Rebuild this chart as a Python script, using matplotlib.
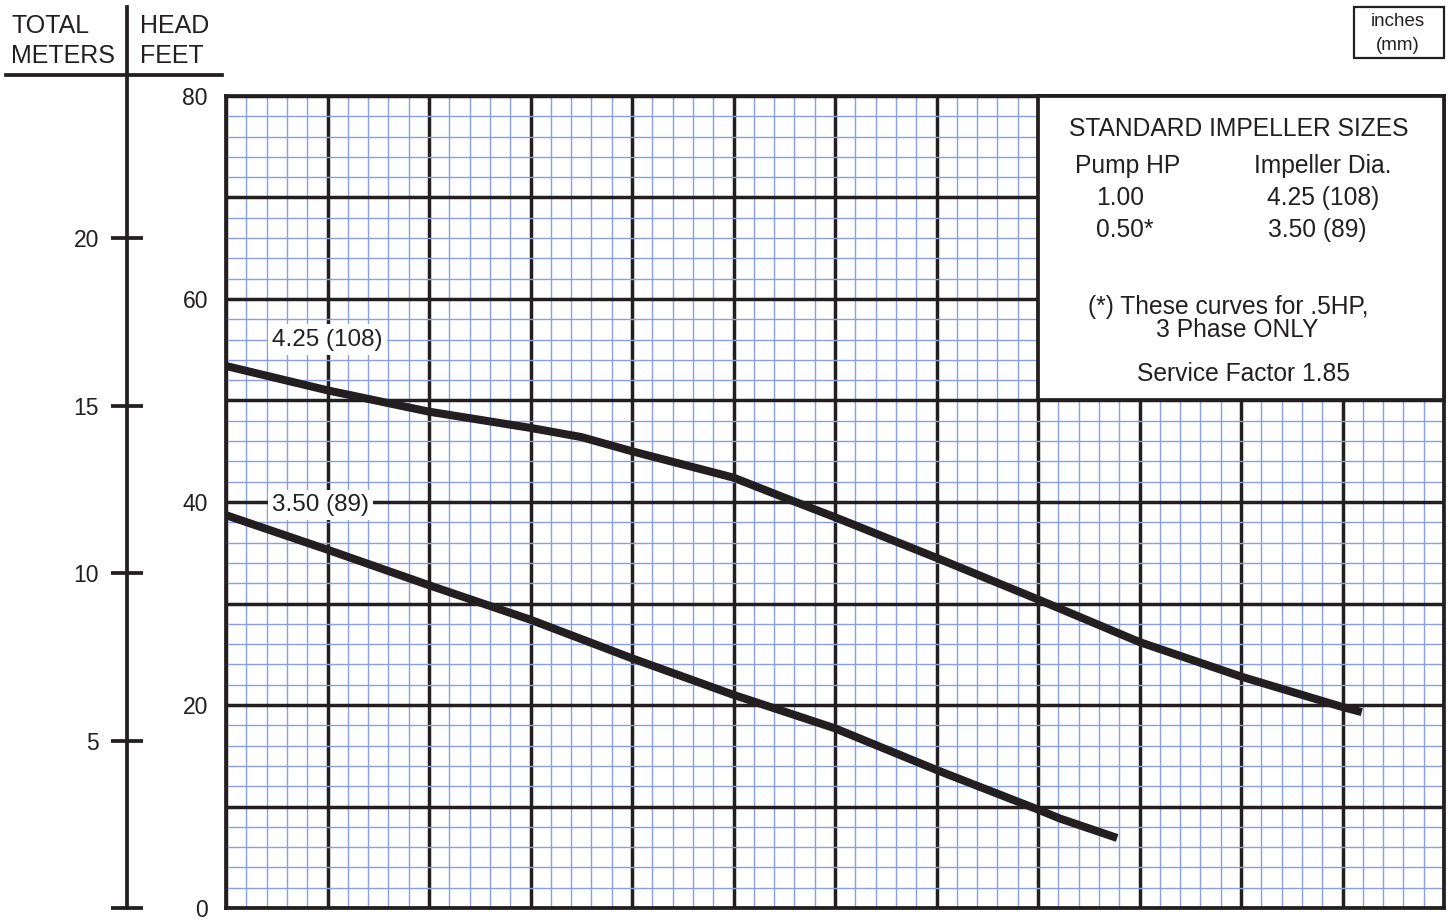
import matplotlib
matplotlib.use("Agg")
import matplotlib.pyplot as plt
from matplotlib.patches import Rectangle
from matplotlib.lines import Line2D
from matplotlib.ticker import MultipleLocator, FixedLocator, FuncFormatter

plt.rcParams['font.family'] = ['Liberation Sans', 'DejaVu Sans']

# ---------------- data ----------------
curve_425_x = [0, 10, 20, 30, 35, 40, 50, 55.6, 60, 70, 80, 90, 100, 110, 111.9]
curve_425_y = [53.4, 51.0, 48.9, 47.3, 46.4, 45.0, 42.4, 40.2, 38.5, 34.5, 30.4, 26.2, 22.8, 19.8, 19.3]
curve_350_x = [0, 10, 20, 30, 40, 50, 60, 70, 80, 82.2, 87.8]
curve_350_y = [38.7, 35.3, 31.8, 28.4, 24.6, 21.0, 17.7, 13.6, 9.7, 8.8, 6.9]
curve_labels = ["4.25 (108)", "3.50 (89)"]
feet_ticks = [0, 20, 40, 60, 80]
meter_ticks = [0, 5, 10, 15, 20]
meter_labels = ["", "5", "10", "15", "20"]
FT_PER_M = 3.3

W, H = 1450, 922
INK = '#231f20'
BLUE = '#8a9fde'

def fx(px):
    return px / W

def fy(py):
    return 1 - py / H

fig = plt.figure(figsize=(W / 100, H / 100), dpi=100)
fig.patch.set_facecolor('white')

# main grid axes
L, R, T, B = 226, 1444, 96, 908
ax = fig.add_axes([fx(L), fy(B), fx(R) - fx(L), fy(T) - fy(B)])
ax.set_xlim(0, 120)
ax.set_ylim(0, 80)
ax.xaxis.set_major_locator(MultipleLocator(10))
ax.xaxis.set_minor_locator(MultipleLocator(2))
ax.yaxis.set_major_locator(MultipleLocator(10))
ax.yaxis.set_minor_locator(MultipleLocator(2))
ax.grid(which='minor', color=BLUE, lw=1.0, zorder=1)
ax.grid(which='major', color=INK, lw=2.5, zorder=1.2)
ax.tick_params(which='both', length=0)
ax.tick_params(axis='x', labelbottom=False)
ax.yaxis.set_major_formatter(FuncFormatter(lambda v, p: f"{int(v)}" if int(round(v)) in feet_ticks else ""))
ax.tick_params(axis='y', labelsize=16.5, pad=13, labelcolor=INK)
for s in ax.spines.values():
    s.set_color(INK)
    s.set_linewidth(2.7)

# curves
ax.plot(curve_425_x, curve_425_y, color=INK, lw=5.8, solid_capstyle='butt', zorder=4)
ax.plot(curve_350_x, curve_350_y, color=INK, lw=5.8, solid_capstyle='butt', zorder=4)

bbox = dict(facecolor='white', edgecolor='none', pad=3)
ax.text(curve_425_x[0] + 4.55, 56.0, curve_labels[0], fontsize=17.5, color=INK,
        ha='left', va='center', bbox=bbox, zorder=5)
ax.text(curve_350_x[0] + 4.55, 39.7, curve_labels[1], fontsize=17.5, color=INK,
        ha='left', va='center', bbox=bbox, zorder=5)

# legend box
ax.add_patch(Rectangle((80, 50), 40, 30, facecolor='white', edgecolor=INK,
                       lw=2.7, zorder=3, clip_on=False))

def legtxt(px, py, s, ha='center'):
    fig.text(fx(px), fy(py), s, fontsize=17.7, color=INK, ha=ha, va='center')

legtxt(1239, 129, "STANDARD IMPELLER SIZES")
legtxt(1128, 166, "Pump HP")
legtxt(1323, 166, "Impeller Dia.")
legtxt(1120, 198, "1.00")
legtxt(1323, 198, "4.25 (108)")
legtxt(1125, 230, "0.50*")
legtxt(1317, 230, "3.50 (89)")
legtxt(1228, 307, "(*) These curves for .5HP,")
legtxt(1237, 330, "3 Phase ONLY")
legtxt(1243, 374, "Service Factor 1.85")

# meters axis
top_px = 7
ft_top = 80 * (B - top_px) / (B - T)
axm = fig.add_axes([fx(127), fy(B), 0.0001, fy(top_px) - fy(B)])
axm.set_ylim(0, ft_top / FT_PER_M)
axm.set_xlim(0, 1)
for k in ['top', 'right', 'bottom']:
    axm.spines[k].set_visible(False)
axm.spines['left'].set_color(INK)
axm.spines['left'].set_linewidth(2.7)
axm.xaxis.set_visible(False)
axm.yaxis.set_major_locator(FixedLocator(meter_ticks))
axm.set_yticklabels(meter_labels)
axm.tick_params(axis='y', direction='inout', length=22.5, width=2.7, color=INK,
                labelsize=16.5, labelcolor=INK, pad=9)
axm.patch.set_visible(False)

# header
fig.add_artist(Line2D([fx(6), fx(222)], [fy(75), fy(75)], color=INK, lw=2.7))
for px, py, s in [(11, 26, "TOTAL"), (11, 56, "METERS"), (140, 26, "HEAD"), (140, 56, "FEET")]:
    fig.text(fx(px), fy(py), s, fontsize=18, color=INK, ha='left', va='center')

# units box
fig.add_artist(Rectangle((fx(1354), fy(58)), fx(1444) - fx(1354), fy(7) - fy(58),
                         transform=fig.transFigure, facecolor='white', edgecolor=INK, lw=1.6))
fig.text(fx(1398), fy(22), "inches", fontsize=13.5, color=INK, ha='center', va='center')
fig.text(fx(1398), fy(45), "(mm)", fontsize=13.5, color=INK, ha='center', va='center')

fig.savefig("out.png", dpi=100, facecolor='white')
